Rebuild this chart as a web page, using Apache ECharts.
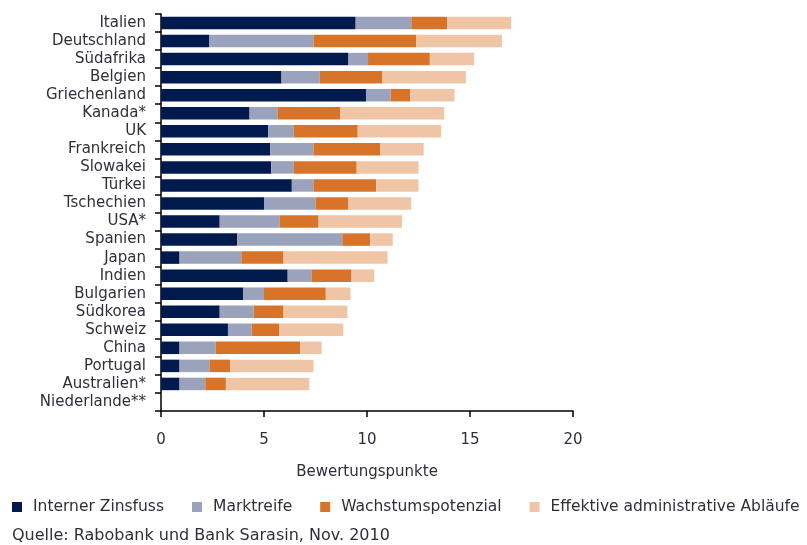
<!DOCTYPE html>
<html>
<head>
<meta charset="utf-8">
<script src="https://cdn.jsdelivr.net/npm/echarts@6/dist/echarts.min.js"></script>
<style>
html,body{margin:0;padding:0;background:#fff;}
#chart{width:807px;height:545px;}
</style>
</head>
<body>
<div id="chart"></div>
<script>
var categories = ["Italien","Deutschland","Südafrika","Belgien","Griechenland","Kanada*","UK","Frankreich","Slowakei","Türkei","Tschechien","USA*","Spanien","Japan","Indien","Bulgarien","Südkorea","Schweiz","China","Portugal","Australien*","Niederlande**"];
var seriesNames = ["Interner Zinsfuss","Marktreife","Wachstumspotenzial","Effektive administrative Abläufe"];
var interner = [9.45, 2.35, 9.1, 5.85, 9.95, 4.3, 5.2, 5.3, 5.35, 6.35, 5.0, 2.85, 3.7, 0.9, 6.15, 4.0, 2.85, 3.25, 0.9, 0.9, 0.9, 0];
var markt = [2.7, 5.05, 0.95, 1.85, 1.2, 1.35, 1.25, 2.1, 1.1, 1.05, 2.5, 2.9, 5.1, 3.0, 1.15, 1.0, 1.65, 1.15, 1.75, 1.45, 1.25, 0];
var wachstum = [1.75, 5.0, 3.0, 3.05, 0.95, 3.05, 3.1, 3.25, 3.05, 3.05, 1.6, 1.9, 1.35, 2.05, 1.95, 3.0, 1.45, 1.35, 4.1, 1.0, 1.0, 0];
var admin = [3.1, 4.15, 2.15, 4.05, 2.15, 5.05, 4.05, 2.1, 3.0, 2.05, 3.05, 4.05, 1.1, 5.05, 1.1, 1.2, 3.1, 3.1, 1.05, 4.05, 4.05, 0];
var xTicks = [0, 5, 10, 15, 20];
var sourceText = "Quelle: Rabobank und Bank Sarasin, Nov. 2010";
var axisName = "Bewertungspunkte";

var colors = ["#001a4e", "#9ba3bc", "#d7742a", "#f0c5a5"];
var font = "DejaVu Sans";
var txt = "#2f2f3c";
var values = [interner, markt, wachstum, admin];

var chart = echarts.init(document.getElementById('chart'), null, {renderer: 'canvas'});
chart.setOption({
  animation: false,
  backgroundColor: '#fff',
  color: colors,
  grid: {left: 161, right: 234, top: 14, bottom: 134, containLabel: false},
  legend: {
    left: 12, top: 499, width: 795, padding: 0,
    itemWidth: 10, itemHeight: 10, itemGap: 28,
    icon: 'rect',
    textStyle: {fontFamily: font, fontSize: 15.5, color: txt, padding: [0, 0, 0, 6]},
    data: seriesNames
  },
  xAxis: {
    type: 'value', min: xTicks[0], max: xTicks[xTicks.length - 1], interval: 5,
    axisLine: {show: true, lineStyle: {color: '#000', width: 1.5}},
    axisTick: {show: true, length: 6, lineStyle: {color: '#000', width: 1.5}},
    splitLine: {show: false},
    axisLabel: {fontFamily: font, fontSize: 15, color: txt, margin: 22},
    name: axisName, nameLocation: 'middle', nameGap: 54,
    nameTextStyle: {fontFamily: font, fontSize: 15, color: txt}
  },
  yAxis: {
    type: 'category', data: categories, inverse: true,
    axisLine: {show: true, lineStyle: {color: '#000', width: 1.5}},
    axisTick: {show: true, length: 6, lineStyle: {color: '#000', width: 1.5}},
    axisLabel: {fontFamily: font, fontSize: 15, color: txt, margin: 15, interval: 0}
  },
  series: seriesNames.map(function (n, i) {
    return {
      name: n, type: 'bar', stack: 'total', barWidth: 12.5,
      data: values[i],
      itemStyle: {color: colors[i]}
    };
  }),
  graphic: [{
    type: 'text', left: 12, top: 528,
    style: {text: sourceText, fontFamily: font, fontSize: 16, fill: txt}
  }]
});
</script>
</body>
</html>
